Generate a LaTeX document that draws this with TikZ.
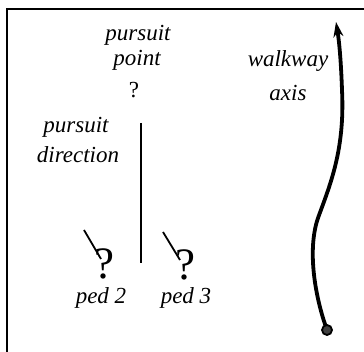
\documentclass[tikz,border=0pt]{standalone}
\usepackage{fontspec}
\setmainfont{Liberation Serif}
\usetikzlibrary{arrows.meta}
\begin{document}
\begin{tikzpicture}[x=1pt,y=-1pt,
  lbl/.style={font=\fontsize{23}{27}\selectfont\itshape, inner sep=0pt, anchor=center},
  qmark/.style={font=\fontsize{23}{27}\selectfont, inner sep=0pt},
  pedq/.style={font=\fontsize{45}{50}\selectfont, inner sep=0pt, text depth=0pt, anchor=base},
  thinline/.style={line width=1.8pt},
  walk/.style={line width=3.8pt, -{Stealth[length=15pt,width=10pt]}}]
\useasboundingbox (0,0) rectangle (364,352);
\clip (0,0) rectangle (364,352);
\draw[line width=2.5pt] (7,9) rectangle (380,370);
% texts
\node[lbl] (pp1) at (138,35) {pursuit};
\node[lbl] (pp2) at (137,60) {point};
\node[qmark] (ppq) at (134,90) {?};
\node[lbl] (pd1) at (76,127) {pursuit};
\node[lbl] (pd2) at (78,155) {direction};
\node[lbl] (w1) at (288,61) {walkway};
\node[lbl] (w2) at (288,93) {axis};
% pursuit direction line
\coordinate (dtop) at (141,123);
\coordinate (dbot) at (141,263);
\draw[thinline] (dtop) -- (dbot);
% pedestrians
\node[pedq] (q2) at (104,279) {?};
\node[pedq] (q3) at (185,280) {?};
\coordinate (l2a) at (84,230);
\coordinate (l2b) at (101,259);
\coordinate (l3a) at (163,232);
\coordinate (l3b) at (180,260);
\draw[thinline] (l2a) -- (l2b);
\draw[thinline] (l3a) -- (l3b);
\node[lbl] (p2) at (101,298) {ped 2};
\node[lbl] (p3) at (186,298) {ped 3};
% walkway axis curve
\coordinate (start) at (327,330);
\coordinate (tip) at (336,22);
\draw[walk] (start) .. controls (315,297) and (307,250) .. (318,218)
  .. controls (330,185) and (345,150) .. (342,90)
  .. controls (341,60) and (339,40) .. (tip);
\filldraw[fill=black!75, draw=black, line width=1.8pt] (start) circle (5);
\end{tikzpicture}
\end{document}
